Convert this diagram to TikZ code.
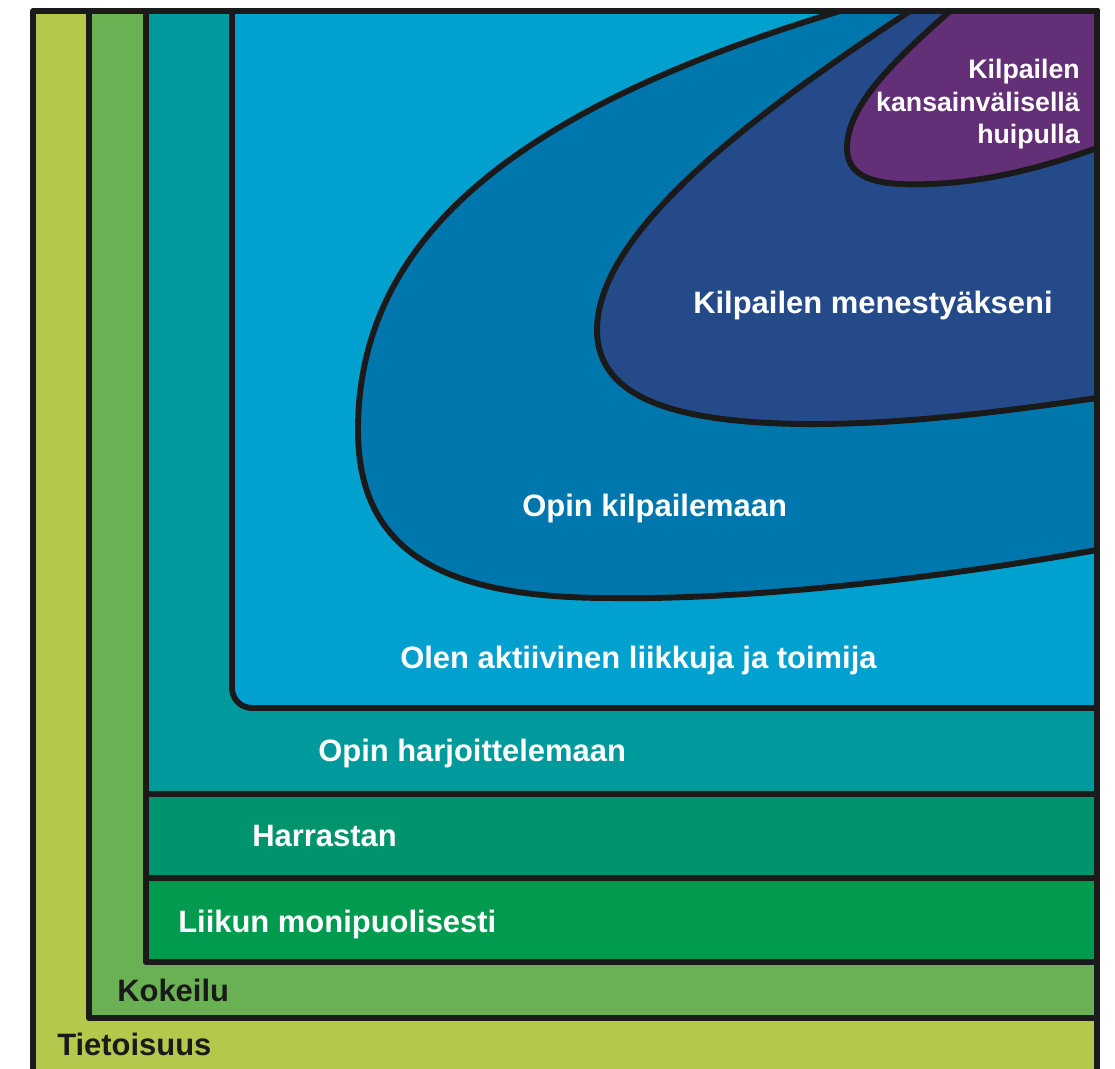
\documentclass[tikz,border=0pt]{standalone}
\usepackage{fontspec}
\setmainfont{Liberation Sans}
\usetikzlibrary{positioning}

\definecolor{tietoisuus}{HTML}{B6C84B}
\definecolor{kokeilu}{HTML}{6AB153}
\definecolor{liikun}{HTML}{009B4E}
\definecolor{harrastan}{HTML}{00946E}
\definecolor{harjoittelu}{HTML}{009A9C}
\definecolor{aktiivinen}{HTML}{00A0CF}
\definecolor{kilpailu}{HTML}{0077AC}
\definecolor{menestys}{HTML}{254A8A}
\definecolor{huippu}{HTML}{633077}
\definecolor{edge}{HTML}{1A1A1A}

\begin{document}
\begin{tikzpicture}[
    x=0.025cm, y=-0.025cm,
    band/.style={draw=edge, line width=4.2pt, line join=round},
    lbl/.style={font=\fontsize{22}{26}\selectfont\bfseries, text=white, inner sep=0pt, anchor=base west},
    darklbl/.style={lbl, text=edge}
]
\useasboundingbox (0,0) rectangle (1115,1068);
\clip (0,0) rectangle (1115,1068);

% Nested bands
\draw[band, fill=tietoisuus] (33,11) rectangle (1097,1090);
\draw[band, fill=kokeilu] (89,11) rectangle (1097,1018);
\draw[band, fill=liikun] (146,11) rectangle (1097,962);
\draw[band, fill=harrastan] (146,11) rectangle (1097,878);
\draw[band, fill=harjoittelu] (146,11) rectangle (1097,794);

% Active area, rounded bottom-left corner
\draw[band, fill=aktiivinen] (1097,11) -- (232,11) -- (232,688)
    arc[start angle=180, end angle=90, radius=20] -- (1097,708) -- cycle;

% Competition areas
\draw[band, fill=kilpailu] (840,11) .. controls (530,105) and (358,230) .. (358,430)
    .. controls (358,550) and (440,598) .. (610,598)
    .. controls (720,600) and (900,585) .. (1097,550) -- (1097,11) -- cycle;
\draw[band, fill=menestys] (910,11) .. controls (760,110) and (597,230) .. (597,330)
    .. controls (597,400) and (680,422) .. (800,424)
    .. controls (900,425) and (1000,412) .. (1097,398) -- (1097,11) -- cycle;
\draw[band, fill=huippu] (950,11) .. controls (895,60) and (847,105) .. (847,148)
    .. controls (847,180) and (880,186) .. (930,184)
    .. controls (990,182) and (1050,165) .. (1097,148) -- (1097,11) -- cycle;

% Labels
\node[darklbl] (tietoisuusL) at (57,1055) {Tietoisuus};
\node[darklbl] (kokeiluL) at (117,1001) {Kokeilu};
\node[lbl] (liikunL) at (178,932) {Liikun monipuolisesti};
\node[lbl] (harrastanL) at (252,846) {Harrastan};
\node[lbl] (harjoitteluL) at (318,761) {Opin harjoittelemaan};
\node[lbl] (aktiivinenL) at (400,668) {Olen aktiivinen liikkuja ja toimija};
\node[lbl] (kilpailuL) at (522,516) {Opin kilpailemaan};
\node[lbl] (menestysL) at (693,313) {Kilpailen menestyäkseni};
\node[lbl, font=\fontsize{19}{22.76}\selectfont\bfseries, align=right, anchor=base east]
    (huippuL) at (1080,143) {Kilpailen\\kansainvälisellä\\huipulla};

\end{tikzpicture}
\end{document}
